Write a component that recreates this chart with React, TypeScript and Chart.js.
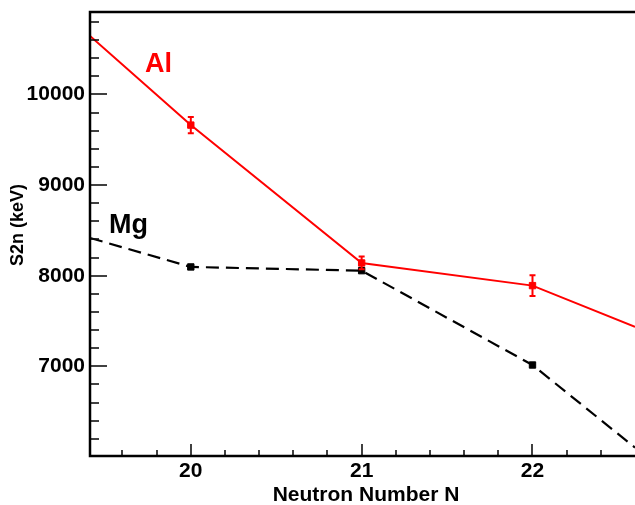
import React, { useEffect, useRef } from "react";
import { Chart, registerables } from "chart.js";

Chart.register(...registerables);

// ---- axis ranges and ticks ----
const xMin = 19.41;
const xMax = 22.6;
const yMin = 6000;
const yMax = 10910;
const xTickValues = [20, 21, 22];
const yTickValues = [7000, 8000, 9000, 10000];
const xMinorStep = 0.2;
const yMinorStep = 200;

// ---- data ----
const alN = [19.41, 20, 21, 22, 22.6];
const alS2n = [10645, 9662, 8141, 7891, 7435];
const alErr = [0, 90, 70, 115, 0];
const alMarker = [false, true, true, true, false];

const mgN = [19.41, 20, 21, 22, 22.6];
const mgS2n = [8417, 8097, 8056, 7015, 6104];
const mgErr = [0, 0, 0, 0, 0];
const mgMarker = [false, true, true, true, false];

const xTitle = "Neutron Number N";
const yTitle = "S2n (keV)";
const alLabel = "Al";
const mgLabel = "Mg";

const FONT = "'Liberation Sans', Arial, Helvetica, sans-serif";

const decorPlugin = {
  id: "decor",
  afterDatasetsDraw(chart: any) {
    const ctx = chart.ctx;
    const xs = chart.scales.x;
    const ys = chart.scales.y;
    const { left, right, top, bottom } = chart.chartArea;

    // error bars
    const drawErr = (ns: number[], vs: number[], es: number[], color: string) => {
      ctx.save();
      ctx.strokeStyle = color;
      ctx.lineWidth = 2;
      for (let i = 0; i < ns.length; i++) {
        if (!es[i]) continue;
        const x = xs.getPixelForValue(ns[i]);
        const y1 = ys.getPixelForValue(vs[i] + es[i]);
        const y2 = ys.getPixelForValue(vs[i] - es[i]);
        ctx.beginPath();
        ctx.moveTo(x, y1);
        ctx.lineTo(x, y2);
        ctx.moveTo(x - 3, y1);
        ctx.lineTo(x + 3, y1);
        ctx.moveTo(x - 3, y2);
        ctx.lineTo(x + 3, y2);
        ctx.stroke();
      }
      ctx.restore();
    };
    drawErr(mgN, mgS2n, mgErr, "#000");
    drawErr(alN, alS2n, alErr, "#ff0000");

    ctx.save();
    // ticks
    ctx.strokeStyle = "#111";
    ctx.lineWidth = 1.6;
    const nY = Math.round((yMax - yMin) / yMinorStep);
    for (let i = 1; i <= nY; i++) {
      const v = yMin + i * yMinorStep;
      if (v >= yMax) break;
      const major = yTickValues.includes(v);
      const y = Math.round(ys.getPixelForValue(v));
      ctx.beginPath();
      ctx.moveTo(left, y);
      ctx.lineTo(left + (major ? 17 : 9), y);
      ctx.stroke();
    }
    const startX = Math.ceil(xMin / xMinorStep) * xMinorStep;
    const nX = Math.round((xMax - startX) / xMinorStep);
    for (let i = 0; i <= nX; i++) {
      const v = Math.round((startX + i * xMinorStep) * 10) / 10;
      if (v <= xMin || v >= xMax) continue;
      const major = xTickValues.includes(v);
      const x = Math.round(xs.getPixelForValue(v));
      ctx.beginPath();
      ctx.moveTo(x, bottom);
      ctx.lineTo(x, bottom - (major ? 13 : 7));
      ctx.stroke();
    }

    // frame / axes
    ctx.strokeStyle = "#000";
    ctx.lineWidth = 2.5;
    ctx.beginPath();
    ctx.moveTo(right + 2, top);
    ctx.lineTo(left, top);
    ctx.lineTo(left, bottom - 1);
    ctx.lineTo(right + 2, bottom - 1);
    ctx.stroke();

    // axis titles
    ctx.fillStyle = "#000";
    ctx.font = `bold 21px ${FONT}`;
    ctx.textAlign = "center";
    ctx.textBaseline = "alphabetic";
    ctx.fillText(xTitle, 366, 501);

    ctx.save();
    ctx.translate(18.5, 225);
    ctx.rotate(-Math.PI / 2);
    ctx.font = `bold 18px ${FONT}`;
    ctx.textAlign = "center";
    ctx.textBaseline = "middle";
    ctx.fillText(yTitle, 0, 0);
    ctx.restore();

    // series labels
    ctx.font = `bold 27px ${FONT}`;
    ctx.textAlign = "left";
    ctx.textBaseline = "alphabetic";
    ctx.fillStyle = "#ff0000";
    ctx.fillText(alLabel, 145, 72);
    ctx.fillStyle = "#000";
    ctx.fillText(mgLabel, 109, 233);
    ctx.restore();
  },
};

export default function App() {
  const ref = useRef<HTMLCanvasElement | null>(null);

  useEffect(() => {
    if (!ref.current) return;
    const chart = new Chart(ref.current, {
      type: "line",
      data: {
        datasets: [
          {
            label: "Mg",
            data: mgN.map((n, i) => ({ x: n, y: mgS2n[i] })),
            borderColor: "#000",
            backgroundColor: "#000",
            borderWidth: 2.2,
            borderDash: [13, 7],
            pointStyle: "rect",
            pointRadius: mgMarker.map((m) => (m ? 4.5 : 0)),
            pointBorderWidth: 1,
            tension: 0,
          },
          {
            label: "Al",
            data: alN.map((n, i) => ({ x: n, y: alS2n[i] })),
            borderColor: "#ff0000",
            backgroundColor: "#ff0000",
            borderWidth: 2,
            pointStyle: "rect",
            pointRadius: alMarker.map((m) => (m ? 4.5 : 0)),
            pointBorderWidth: 1,
            tension: 0,
          },
        ],
      },
      options: {
        responsive: false,
        animation: false,
        layout: { padding: { top: 12, left: 0, right: 0, bottom: 0 } },
        plugins: {
          legend: { display: false },
          tooltip: { enabled: false },
        },
        scales: {
          x: {
            type: "linear",
            min: xMin,
            max: xMax,
            afterBuildTicks: (s: any) => {
              s.ticks = xTickValues.map((v) => ({ value: v }));
            },
            afterFit: (s: any) => {
              s.height = 48;
              s.paddingLeft = 0;
              s.paddingRight = 0;
            },
            grid: { display: false, drawTicks: false },
            border: { display: false },
            ticks: {
              padding: 2,
              color: "#000",
              font: { family: FONT, size: 21, weight: "bold" },
              maxRotation: 0,
              autoSkip: false,
              callback: (v: any) => String(v),
            },
          },
          y: {
            type: "linear",
            min: yMin,
            max: yMax,
            afterBuildTicks: (s: any) => {
              s.ticks = yTickValues.map((v) => ({ value: v }));
            },
            afterFit: (s: any) => {
              s.width = 90;
              s.paddingTop = 0;
              s.paddingBottom = 0;
            },
            grid: { display: false, drawTicks: false },
            border: { display: false },
            ticks: {
              padding: 5,
              color: "#000",
              font: { family: FONT, size: 21, weight: "bold" },
              autoSkip: false,
              callback: (v: any) => String(v),
            },
          },
        },
      },
      plugins: [decorPlugin],
    } as any);
    return () => chart.destroy();
  }, []);

  return (
    <div style={{ position: "fixed", left: 0, top: 0, width: 635, height: 505, background: "#fff" }}>
      <canvas ref={ref} width={635} height={505} style={{ width: 635, height: 505, display: "block" }} />
    </div>
  );
}
